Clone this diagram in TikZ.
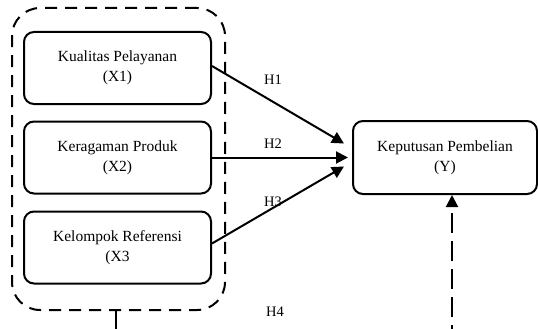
\documentclass[tikz,border=0pt]{standalone}
\usepackage{fontspec}
\setmainfont{Liberation Serif}
\usepackage{tikz}
\usetikzlibrary{arrows.meta,calc}

\begin{document}
\begin{tikzpicture}[x=1pt,y=-1pt,>={Triangle[length=12pt,width=12pt]},
  var/.style={draw,line width=2pt,rounded corners=10pt,minimum width=187pt,minimum height=72pt,align=center,inner sep=0pt,font=\fontsize{15.5}{20}\selectfont},
  hlab/.style={inner sep=0pt,font=\fontsize{14.5}{16}\selectfont},
  grpbox/.style={draw,line width=2pt,dash pattern=on 12pt off 8pt,rounded corners=28pt,minimum width=213pt,minimum height=302pt,inner sep=0pt}]
\useasboundingbox (0,0) rectangle (538,329);
\clip (0,0) rectangle (538,329);

\node[grpbox] (grp) at (118.5,159) {};
\node[var] (x1) at (117.5,68) {Kualitas Pelayanan\\(X1)};
\node[var] (x2) at (117.5,157.5) {Keragaman Produk\\(X2)};
\node[var] (x3) at (117.5,247.5) {Kelompok Referensi\\(X3};
\node[var,minimum width=184pt,minimum height=73pt] (y) at (445,157.5) {Keputusan Pembelian\\(Y)};

\node[hlab] (h1) at (273,80) {H1};
\node[hlab] (h2) at (273,144) {H2};
\node[hlab] (h3) at (273,202) {H3};
\node[hlab] (h4) at (275,312) {H4};

\draw[->,line width=2pt] ([yshift=2pt]x1.east) -- ([xshift=-8pt,yshift=14pt]y.west);
\draw[->,line width=2pt] (x2.east) -- ([xshift=-4pt]y.west);
\draw[->,line width=2pt] ([yshift=4pt]x3.east) -- ([xshift=-8pt,yshift=-9pt]y.west);

% H4 goes below the visible area
\coordinate (h4l) at (116,345);
\coordinate (h4r) at (452,345);
\draw[line width=1.2pt,dash pattern=on 30pt off 8pt] (grp.south -| h4l) -- (h4l);
\draw[->,line width=2pt,dash pattern=on 20pt off 8pt] (h4r) -- (h4r |- y.south);
\end{tikzpicture}
\end{document}
